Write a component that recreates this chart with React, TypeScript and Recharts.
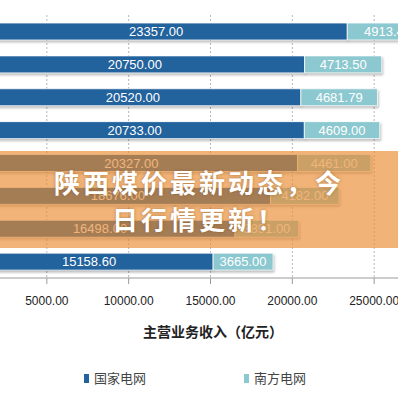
import React from "react";
import { BarChart, Bar, XAxis, YAxis, CartesianGrid, LabelList } from "recharts";

const categories = ["r1", "r2", "r3", "r4", "r5", "r6", "r7", "r8"];
const stateGrid = [23357.0, 20750.0, 20520.0, 20733.0, 20327.0, 18676.0, 16498.0, 15158.6];
const southGrid = [4913.4, 4713.5, 4681.79, 4609.0, 4461.0, 4182.0, 3891.0, 3665.0];
const xTicks = [5000, 10000, 15000, 20000, 25000];
const seriesNames = ["国家电网", "南方电网"];
const axisTitle = "主营业务收入（亿元）";
const titleLines = ["陕西煤价最新动态，今", "日行情更新！"];

const data = categories.map((c, i) => ({ name: c, a: stateGrid[i], b: southGrid[i] }));

const DARK = "#22629d";
const LIGHT = "#8cc8d0";
const FONT = "'Liberation Sans', Arial, sans-serif";
const CJK = "'Noto Sans CJK SC', sans-serif";

export default function App() {
  return (
    <div style={{ position: "fixed", left: 0, top: 0, width: 398, height: 398, overflow: "hidden", background: "#fff" }}>
      <div style={{ position: "absolute", left: -35, top: 0 }}>
        <BarChart
          width={491}
          height={398}
          data={data}
          layout="vertical"
          margin={{ top: 15, right: 0, left: 0, bottom: 90 }}
        >
          <CartesianGrid horizontal={false} vertical={true} stroke="#b5b5b5" strokeDasharray="2 2" />
          <XAxis
            type="number"
            domain={[0, 30000]}
            ticks={xTicks}
            interval={0}
            tickFormatter={(v: number) => v.toFixed(2)}
            stroke="#9a9a9a"
            tickSize={6}
            tickMargin={12}
            tick={{ fill: "#222", fontSize: 12, fontFamily: FONT }}
          />
          <YAxis type="category" dataKey="name" hide />
          <Bar dataKey="a" stackId="s" fill={DARK} barSize={17} isAnimationActive={false} stroke="#ffffff" strokeWidth={0.8}
            style={{ filter: "drop-shadow(1px 2px 1px rgba(0,0,0,0.25))" }}>
            <LabelList dataKey="a" position="center" formatter={(v: any) => Number(v).toFixed(2)} fill="#ffffff" fontSize={13} fontFamily={FONT} />
          </Bar>
          <Bar dataKey="b" stackId="s" fill={LIGHT} barSize={17} isAnimationActive={false} stroke="#ffffff" strokeWidth={0.8}
            style={{ filter: "drop-shadow(1px 2px 1px rgba(0,0,0,0.25))" }}>
            <LabelList dataKey="b" position="center" formatter={(v: any) => Number(v).toFixed(2)} fill="#ffffff" fontSize={13} fontFamily={FONT} />
          </Bar>
        </BarChart>
      </div>
      <div style={{ position: "absolute", left: 14, width: 398, top: 321, textAlign: "center", fontFamily: CJK, fontWeight: 700, fontSize: 14, color: "#222", lineHeight: "20px" }}>
        {axisTitle}
      </div>
      <div style={{ position: "absolute", left: 84, top: 369, display: "flex", alignItems: "center", fontFamily: CJK, fontSize: 13, color: "#444", lineHeight: "18px" }}>
        <span style={{ display: "inline-block", width: 5, height: 9, background: DARK, marginRight: 5 }} />
        {seriesNames[0]}
      </div>
      <div style={{ position: "absolute", left: 244, top: 369, display: "flex", alignItems: "center", fontFamily: CJK, fontSize: 13, color: "#444", lineHeight: "18px" }}>
        <span style={{ display: "inline-block", width: 5, height: 9, background: LIGHT, marginRight: 5 }} />
        {seriesNames[1]}
      </div>
      <div style={{ position: "absolute", left: 0, top: 151, width: 398, height: 97, background: "rgba(234,140,48,0.66)" }} />
      <div style={{ position: "absolute", left: 0, top: 163, width: 398, textAlign: "center", fontFamily: CJK, fontWeight: 700, fontSize: 26, letterSpacing: 3, color: "#fff", lineHeight: "37px", textShadow: "0 0 3px rgba(120,70,20,0.5)" }}>
        {titleLines[0]}<br />{titleLines[1]}
      </div>
    </div>
  );
}
